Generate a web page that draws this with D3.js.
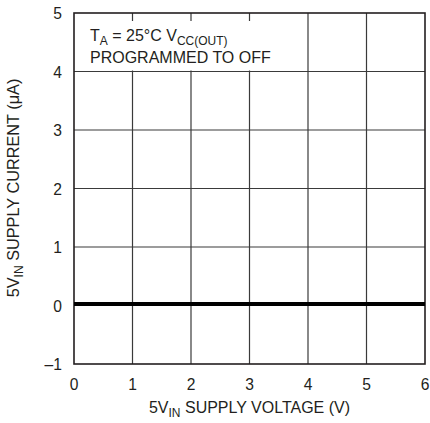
<!DOCTYPE html>
<html><head><meta charset="utf-8">
<script src="https://cdn.jsdelivr.net/npm/d3@7"></script>
<style>body{margin:0;background:#fff}svg{display:block}text{font-family:"Liberation Sans Narrow","Arial Narrow","Liberation Sans",sans-serif;fill:#231f20}</style>
</head><body><svg id="c" width="430" height="423"></svg>
<script>
const xTicks = [0,1,2,3,4,5,6];
const yTicks = [-1,0,1,2,3,4,5];
const yTickLabels = ["\u20131","0","1","2","3","4","5"];
const voltage = [0,6];
const current = [0,0];

const svg = d3.select("#c");
const m = {l:74,r:425,t:13,b:364};
const x = d3.scaleLinear().domain([0,6]).range([m.l,m.r]);
const y = d3.scaleLinear().domain([-1,5]).range([m.b,m.t]);

// grid
svg.append("g").selectAll("line").data(xTicks.slice(1,-1)).join("line")
  .attr("x1",d=>x(d)).attr("x2",d=>x(d)).attr("y1",m.t).attr("y2",m.b)
  .attr("stroke","#3a3a3a").attr("stroke-width",1.2);
svg.append("g").selectAll("line").data(yTicks.slice(1,-1)).join("line")
  .attr("x1",m.l).attr("x2",m.r).attr("y1",d=>y(d)).attr("y2",d=>y(d))
  .attr("stroke","#3a3a3a").attr("stroke-width",1.2);

// label box (white background)
svg.append("rect").attr("x",x(0)+8).attr("y",y(5)+8).attr("width",x(3.4)-x(0)-8).attr("height",y(4)-y(5)-9).attr("fill","#fff");

// frame
svg.append("rect").attr("x",m.l).attr("y",m.t).attr("width",m.r-m.l).attr("height",m.b-m.t)
  .attr("fill","none").attr("stroke","#231f20").attr("stroke-width",1.6);

// data line
svg.append("path").datum(voltage.map((v,i)=>[v,current[i]]))
  .attr("d",d3.line().x(d=>x(d[0])).y(d=>y(d[1])-1.5))
  .attr("stroke","#000").attr("stroke-width",4).attr("fill","none");

// tick labels
svg.append("g").selectAll("text").data(yTicks).join("text")
  .attr("transform",d=>`translate(${m.l-12},${y(d)+6}) scale(0.92,1)`).attr("text-anchor","end").attr("font-size",17)
  .text((d,i)=>yTickLabels[i]);
svg.append("g").selectAll("text").data(xTicks).join("text")
  .attr("transform",d=>`translate(${x(d)},${m.b+26}) scale(0.92,1)`).attr("text-anchor","middle").attr("font-size",17)
  .text(d=>d);

function sub(t, parts){
  parts.forEach(p=>{
    const ts=t.append("tspan").text(p[0]);
    if(p[1]){ts.attr("font-size",12).attr("dy",4);}
    else if(p[2]){ts.attr("dy",-4);}
  });
}
const xl = svg.append("text").attr("x",(m.l+m.r)/2).attr("y",413).attr("text-anchor","middle").attr("font-size",16);
sub(xl,[["5V"],["IN",1],[" SUPPLY VOLTAGE (V)",0,1]]);
const yl = svg.append("text").attr("transform",`translate(19,188) rotate(-90)`).attr("text-anchor","middle").attr("font-size",16.3);
sub(yl,[["5V"],["IN",1],[" SUPPLY CURRENT (\u03bcA)",0,1]]);

const t1 = svg.append("text").attr("x",90).attr("y",41).attr("font-size",16);
sub(t1,[["T"],["A",1],[" = 25\u00b0C V",0,1],["CC(OUT)",1]]);
svg.append("text").attr("x",90).attr("y",63).attr("font-size",16).text("PROGRAMMED TO OFF");
</script></body></html>
